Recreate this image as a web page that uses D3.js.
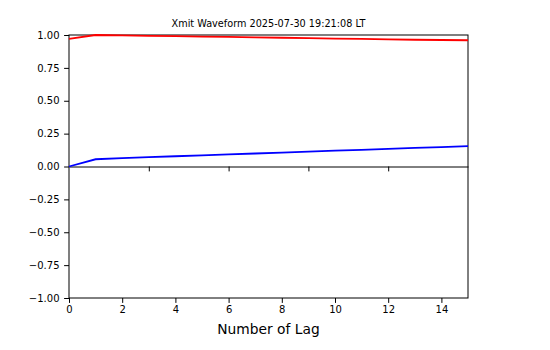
<!DOCTYPE html>
<html>
<head>
<meta charset="utf-8">
<script src="https://cdn.jsdelivr.net/npm/d3@7"></script>
<style>
  html, body { margin: 0; padding: 0; background: #fff; }
  svg { display: block; font-family: "DejaVu Sans", sans-serif; }
</style>
</head>
<body>
<svg id="chart" width="550" height="350"></svg>
<script>
// Autocorrelation by lag
const lags = [0, 1, 2, 3, 4, 5, 6, 7, 8, 9, 10, 11, 12, 13, 14, 15];
const realPart = [0.97, 1.0, 0.997, 0.994, 0.991, 0.988, 0.985, 0.982, 0.979, 0.976, 0.973, 0.970, 0.967, 0.964, 0.962, 0.960];
const imagPart = [0.0, 0.055, 0.063, 0.071, 0.078, 0.085, 0.092, 0.099, 0.106, 0.113, 0.120, 0.127, 0.134, 0.141, 0.148, 0.155];
const xTicks = [0, 2, 4, 6, 8, 10, 12, 14];
const yTicks = [-1.0, -0.75, -0.5, -0.25, 0.0, 0.25, 0.5, 0.75, 1.0];
const zeroLineTicks = [3, 6, 9, 12];
const titleText = "Xmit Waveform 2025-07-30 19:21:08 LT";
const xLabel = "Number of Lag";

const svg = d3.select("#chart");
const m = { left: 69, right: 468, top: 35, bottom: 298 };
const tickLen = 4.9, tickPad = 4.6, tickFont = 10;

const x = d3.scaleLinear().domain([0, 15]).range([m.left, m.right]);
const y = d3.scaleLinear().domain([-1, 1]).range([m.bottom, m.top]);

// Plot frame
svg.append("rect")
  .attr("x", m.left).attr("y", m.top)
  .attr("width", m.right - m.left).attr("height", m.bottom - m.top)
  .attr("fill", "none").attr("stroke", "#000").attr("stroke-width", 1);

// Bottom axis
const xAxis = svg.append("g")
  .attr("transform", `translate(0,${m.bottom})`)
  .call(d3.axisBottom(x).tickValues(xTicks).tickFormat(d3.format("d")).tickSize(tickLen).tickPadding(tickPad - 1.5));
xAxis.select(".domain").remove();
xAxis.selectAll("text").attr("font-size", tickFont).attr("fill", "#000").attr("font-family", "DejaVu Sans");

// Left axis
const yAxis = svg.append("g")
  .attr("transform", `translate(${m.left},0)`)
  .call(d3.axisLeft(y).tickValues(yTicks).tickFormat(d => d3.format(".2f")(d).replace("-", "\u2212")).tickSize(tickLen).tickPadding(tickPad));
yAxis.select(".domain").remove();
yAxis.selectAll("text").attr("font-size", tickFont).attr("fill", "#000").attr("font-family", "DejaVu Sans");

// Zero line with its own ticks
const zeroAxis = svg.append("g")
  .attr("transform", `translate(0,${y(0)})`)
  .call(d3.axisBottom(x).tickValues(zeroLineTicks).tickFormat("").tickSize(tickLen).tickSizeOuter(0));
zeroAxis.select(".domain").attr("stroke", "#000").attr("stroke-width", 1);

// Series
const line = d3.line().x((d, i) => x(lags[i])).y(d => y(d));
svg.append("path").datum(realPart)
  .attr("d", line).attr("fill", "none").attr("stroke", "#ff0000").attr("stroke-width", 1.8);
svg.append("path").datum(imagPart)
  .attr("d", line).attr("fill", "none").attr("stroke", "#0000ff").attr("stroke-width", 1.8);

// Title and axis label
svg.append("text")
  .attr("x", (m.left + m.right) / 2).attr("y", 27)
  .attr("text-anchor", "middle").attr("font-size", 9.7)
  .text(titleText);
svg.append("text")
  .attr("x", (m.left + m.right) / 2).attr("y", 334)
  .attr("text-anchor", "middle").attr("font-size", 13.8)
  .text(xLabel);
</script>
</body>
</html>
